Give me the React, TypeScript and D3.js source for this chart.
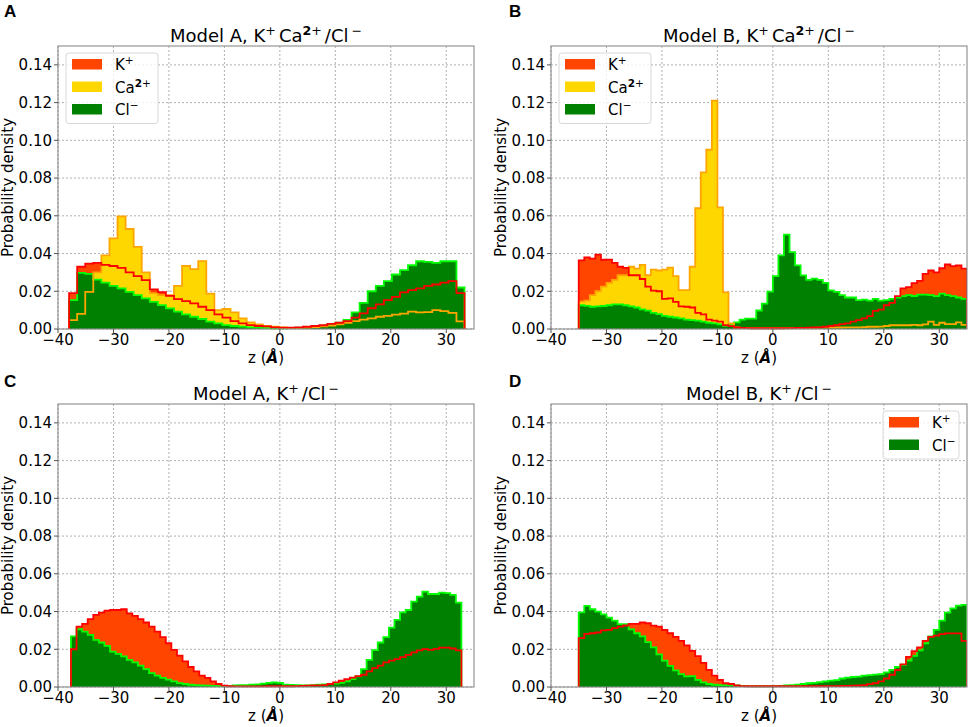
import React from "react";
import * as d3 from "d3";

// histogram bins (z in Å) and probability densities
const A_BINS = { start: -38, width: 1.455 };
const A_K = [0.019, 0.033, 0.0347, 0.035, 0.034, 0.0334, 0.0324, 0.03, 0.028, 0.0259, 0.021, 0.0195, 0.0176, 0.0158, 0.0148, 0.0136, 0.0118, 0.01, 0.0077, 0.006, 0.0042, 0.003, 0.0021, 0.0016, 0.0014, 0.0009, 0.0007, 0.0007, 0.0009, 0.0012, 0.0016, 0.002, 0.0027, 0.0033, 0.0042, 0.006, 0.0083, 0.011, 0.013, 0.0153, 0.017, 0.0194, 0.0206, 0.0215, 0.0229, 0.0236, 0.0246, 0.0254, 0.019];
const A_CA = [0.0047, 0.008, 0.0197, 0.03, 0.039, 0.048, 0.0597, 0.053, 0.0435, 0.03, 0.019, 0.018, 0.018, 0.0229, 0.0334, 0.0317, 0.036, 0.0188, 0.01, 0.0106, 0.0088, 0.0056, 0.0035, 0.0025, 0.0016, 0.0012, 0.0008, 0.0006, 0.0006, 0.0008, 0.001, 0.0014, 0.0018, 0.0025, 0.0032, 0.0042, 0.005, 0.0056, 0.0065, 0.007, 0.0076, 0.0082, 0.0092, 0.0088, 0.0089, 0.01, 0.0095, 0.0085, 0.004];
const A_CL = [0.0153, 0.0298, 0.0292, 0.0262, 0.0246, 0.0229, 0.0215, 0.0197, 0.018, 0.0162, 0.0144, 0.0127, 0.0109, 0.0092, 0.0077, 0.0065, 0.0053, 0.0039, 0.003, 0.0021, 0.0016, 0.0013, 0.0009, 0.0007, 0.0005, 0.0004, 0.0003, 0.0005, 0.0007, 0.001, 0.0013, 0.0018, 0.0026, 0.0033, 0.0048, 0.0088, 0.0139, 0.02, 0.0229, 0.0254, 0.0289, 0.0312, 0.0338, 0.0359, 0.0356, 0.035, 0.0359, 0.0359, 0.022];

const B_BINS = { start: -35, width: 1 };
const B_K = [0.0364, 0.038, 0.0373, 0.0394, 0.0367, 0.0368, 0.035, 0.033, 0.0324, 0.0285, 0.0285, 0.0265, 0.0225, 0.0203, 0.02, 0.016, 0.0162, 0.0144, 0.012, 0.0118, 0.0114, 0.0085, 0.0077, 0.005, 0.0044, 0.0039, 0.002, 0.0015, 0.0008, 0.0006, 0.0005, 0.0004, 0.0004, 0.0004, 0.0004,
  0.0004, 0.0004, 0.0005, 0.0005, 0.0006, 0.0006, 0.0007, 0.0008, 0.0009, 0.0012, 0.0016, 0.002, 0.0026, 0.003, 0.0039, 0.0047, 0.0056, 0.0068, 0.0096, 0.0103, 0.0126, 0.0139, 0.0174, 0.0215, 0.0222, 0.0243, 0.0255, 0.0292, 0.031, 0.03, 0.0322, 0.0342, 0.0333, 0.0337, 0.032];
const B_CA = [0.0145, 0.015, 0.018, 0.02, 0.0225, 0.0245, 0.026, 0.0285, 0.0285, 0.033, 0.032, 0.034, 0.0285, 0.0315, 0.031, 0.0315, 0.0325, 0.028, 0.0206, 0.0206, 0.033, 0.064, 0.083, 0.095, 0.121, 0.0645, 0.0194, 0.003, 0.0008, 0.0006, 0.0005, 0.0004, 0.0004, 0.0004, 0.0004,
  0.0004, 0.0004, 0.0004, 0.0005, 0.0005, 0.0005, 0.0006, 0.0006, 0.0007, 0.0007, 0.0008, 0.0008, 0.0008, 0.0009, 0.0009, 0.0009, 0.001, 0.0012, 0.0012, 0.0013, 0.0016, 0.002, 0.002, 0.002, 0.002, 0.0022, 0.002, 0.0025, 0.0039, 0.0022, 0.0033, 0.0026, 0.0026, 0.0035, 0.0022];
const B_CL = [0.0126, 0.0123, 0.0118, 0.012, 0.0122, 0.0126, 0.013, 0.013, 0.0126, 0.012, 0.0114, 0.0104, 0.0097, 0.0086, 0.0079, 0.007, 0.0065, 0.0061, 0.0056, 0.005, 0.0047, 0.0044, 0.0039, 0.0033, 0.003, 0.0025, 0.0016, 0.002, 0.0035, 0.005, 0.0055, 0.0055, 0.0098, 0.0135, 0.0198,
  0.028, 0.039, 0.05, 0.0407, 0.0337, 0.0284, 0.026, 0.0267, 0.026, 0.0244, 0.0205, 0.0197, 0.018, 0.0167, 0.0167, 0.0153, 0.0156, 0.015, 0.016, 0.015, 0.0153, 0.016, 0.0167, 0.0174, 0.018, 0.0175, 0.0182, 0.0182, 0.018, 0.0174, 0.0188, 0.018, 0.0174, 0.0167, 0.016];

const C_BINS = { start: -37.66, width: 1.0056 };
const C_K = [0.02, 0.032, 0.0335, 0.036, 0.0382, 0.0394, 0.0405, 0.0408, 0.0408, 0.0412, 0.039, 0.0377, 0.036, 0.0342, 0.032, 0.0294, 0.0264, 0.0232, 0.0197, 0.0166, 0.0136, 0.0106, 0.0083, 0.006, 0.0048, 0.003, 0.0016, 0.0007, 0.0004,
  0.0003, 0.0003, 0.0003, 0.0003, 0.0003, 0.0003, 0.0004, 0.0004, 0.0004, 0.0004, 0.0004, 0.0005, 0.0006, 0.0007, 0.0008, 0.0009,
  0.001, 0.0016, 0.0025, 0.0033, 0.0042, 0.005, 0.0058, 0.0065, 0.0083, 0.01, 0.0113, 0.013, 0.014, 0.0148, 0.0158, 0.017, 0.0183, 0.0194, 0.0201, 0.0197, 0.0202, 0.0209, 0.0209, 0.0204, 0.0194];
const C_CL = [0.0268, 0.0306, 0.0294, 0.0276, 0.025, 0.0236, 0.0218, 0.0188, 0.0176, 0.0162, 0.0144, 0.013, 0.0113, 0.0095, 0.0074, 0.006, 0.0048, 0.0039, 0.003, 0.0021, 0.0016, 0.0012, 0.001, 0.0008, 0.0007, 0.0006, 0.0005, 0.0005, 0.0006, 0.0008, 0.001, 0.001, 0.0012, 0.0014, 0.0018, 0.0022, 0.0025, 0.0022, 0.0012, 0.0011,
  0.001, 0.0009, 0.0008, 0.001, 0.0012, 0.0014, 0.0016, 0.0018, 0.0022, 0.003, 0.0042, 0.0056, 0.0095, 0.0144, 0.0195, 0.0236, 0.0264, 0.0315, 0.0356, 0.0396, 0.0408, 0.0452, 0.0479, 0.0505, 0.0493, 0.0493, 0.05, 0.0498, 0.0488, 0.0447];

const D_BINS = { start: -35, width: 1 };
const D_K = [0.0259, 0.0282, 0.0285, 0.0289, 0.03, 0.0303, 0.0312, 0.032, 0.0326, 0.0335, 0.0335, 0.0342, 0.0338, 0.0325, 0.032, 0.0302, 0.0285, 0.0266, 0.0244, 0.0221, 0.0192, 0.0164, 0.0128, 0.0091, 0.006, 0.0037, 0.002, 0.0016, 0.0008, 0.0005, 0.0004, 0.0004, 0.0004, 0.0004, 0.0004,
  0.0004, 0.0004, 0.0004, 0.0004, 0.0004, 0.0004, 0.0004, 0.0004, 0.0004, 0.0004, 0.0005, 0.0005, 0.0006, 0.0006, 0.0007, 0.0008, 0.001, 0.0015, 0.002, 0.003, 0.0045, 0.0065, 0.009, 0.012, 0.016, 0.019, 0.021, 0.0245, 0.0266, 0.0272, 0.028, 0.0284, 0.0284, 0.0284, 0.0245];
const D_CL = [0.0396, 0.043, 0.0412, 0.04, 0.0385, 0.0368, 0.0352, 0.0333, 0.0333, 0.0305, 0.0285, 0.0268, 0.0238, 0.021, 0.0173, 0.014, 0.0112, 0.0088, 0.0068, 0.0056, 0.0058, 0.0038, 0.0024, 0.0016, 0.0012, 0.001, 0.001, 0.0009, 0.0008, 0.0006, 0.0005, 0.0004, 0.0004, 0.0004, 0.0004,
  0.0005, 0.0006, 0.0008, 0.001, 0.0012, 0.0016, 0.002, 0.0022, 0.0026, 0.003, 0.0034, 0.0036, 0.0045, 0.005, 0.0053, 0.0055, 0.006, 0.0063, 0.0066, 0.0068, 0.0077, 0.009, 0.0106, 0.0118, 0.014, 0.0165, 0.0194, 0.0232, 0.0268, 0.0303, 0.0352, 0.0394, 0.0417, 0.0431, 0.0435];

const X_TICKS = [-40, -30, -20, -10, 0, 10, 20, 30];
const Y_TICKS = [0, 0.02, 0.04, 0.06, 0.08, 0.1, 0.12, 0.14];
const X_DOMAIN: [number, number] = [-40, 35];
const Y_DOMAIN: [number, number] = [0, 0.15];

type Ion = "K" | "Ca" | "Cl";
type Series = { ion: Ion; start: number; width: number; values: number[] };

const COLORS: Record<Ion, { fill: string; edge: string }> = {
  K: { fill: "#ff4500", edge: "#ff0000" },
  Ca: { fill: "#ffd700", edge: "#ffa500" },
  Cl: { fill: "#008000", edge: "#00ff00" },
};

const FONT = "'DejaVu Sans', sans-serif";
const PW = 416;
const PH = 283;

const PANELS = [
  { letter: "A", model: "A", withCa: true, left: 58, top: 46, lx: 4, ly: 17, legend: "left",
    series: [{ ion: "K", ...A_BINS, values: A_K }, { ion: "Ca", ...A_BINS, values: A_CA }, { ion: "Cl", ...A_BINS, values: A_CL }] },
  { letter: "B", model: "B", withCa: true, left: 551, top: 46, lx: 509, ly: 17, legend: "left",
    series: [{ ion: "K", ...B_BINS, values: B_K }, { ion: "Ca", ...B_BINS, values: B_CA }, { ion: "Cl", ...B_BINS, values: B_CL }] },
  { letter: "C", model: "A", withCa: false, left: 58, top: 404, lx: 4, ly: 387, legend: null,
    series: [{ ion: "K", ...C_BINS, values: C_K }, { ion: "Cl", ...C_BINS, values: C_CL }] },
  { letter: "D", model: "B", withCa: false, left: 551, top: 404, lx: 509, ly: 387, legend: "right",
    series: [{ ion: "K", ...D_BINS, values: D_K }, { ion: "Cl", ...D_BINS, values: D_CL }] },
] as { letter: string; model: string; withCa: boolean; left: number; top: number; lx: number; ly: number; legend: string | null; series: Series[] }[];

function stepPoints(s: Series): [number, number][] {
  const pts: [number, number][] = [[s.start, 0]];
  s.values.forEach((v, i) => {
    const a = s.start + i * s.width;
    pts.push([a, v], [a + s.width, v]);
  });
  pts.push([s.start + s.values.length * s.width, 0]);
  return pts;
}

// ion label with superscript charge
function IonLabel({ ion, size }: { ion: Ion; size: number }) {
  const s = size * 0.7;
  const r = size * 0.38;
  if (ion === "K")
    return (<><tspan>K</tspan><tspan dy={-r} fontSize={s}>+</tspan><tspan dy={r}> </tspan></>);
  if (ion === "Ca")
    return (<><tspan>Ca</tspan><tspan dy={-r} fontSize={s} fontWeight="bold">2</tspan><tspan fontSize={s}>+</tspan><tspan dy={r}> </tspan></>);
  return (<><tspan>Cl</tspan><tspan dy={-r} fontSize={s}>−</tspan><tspan dy={r}> </tspan></>);
}

function Title({ model, withCa, cx, y }: { model: string; withCa: boolean; cx: number; y: number }) {
  const size = 18;
  const s = size * 0.7;
  const r = size * 0.38;
  return (
    <text x={cx} y={y} textAnchor="middle" fontFamily={FONT} fontSize={size} fill="#000">
      <tspan>{`Model ${model}, K`}</tspan>
      <tspan dy={-r} fontSize={s}>+</tspan>
      {withCa ? (
        <>
          <tspan dy={r} dx={3}>Ca</tspan>
          <tspan dy={-r} fontSize={s} fontWeight="bold">2</tspan>
          <tspan fontSize={s}>+</tspan>
        </>
      ) : null}
      <tspan dy={r} dx={3}>/Cl</tspan>
      <tspan dy={-r} fontSize={s} dx={3}>−</tspan>
    </text>
  );
}

function Panel({ p }: { p: (typeof PANELS)[number] }) {
  const x = d3.scaleLinear().domain(X_DOMAIN).range([p.left, p.left + PW]);
  const y = d3.scaleLinear().domain(Y_DOMAIN).range([p.top + PH, p.top]);
  const line = d3.line<[number, number]>().x((d) => x(d[0])).y((d) => y(d[1]));
  const clipId = `clip-${p.letter}`;
  const bottom = p.top + PH;
  const cy = p.top + PH / 2;
  const labelX = p.left - 45;

  const ions = p.series.map((s) => s.ion);
  const lw = 30;
  const rowH = 22.5;
  const boxW = p.withCa ? 92 : 76;
  const boxH = ions.length * rowH + 3;
  const boxX = p.legend === "right" ? p.left + PW - boxW - 8 : p.left + 8;
  const boxY = p.top + 7;

  return (
    <g>
      <defs>
        <clipPath id={clipId}>
          <rect x={p.left} y={p.top - 2} width={PW} height={PH + 4} />
        </clipPath>
      </defs>
      <rect x={p.left} y={p.top} width={PW} height={PH} fill="#fff" />
      {X_TICKS.map((t) => (
        <line key={`gx${t}`} x1={x(t)} x2={x(t)} y1={p.top} y2={bottom} stroke="#b0b0b0" strokeDasharray="2,2" />
      ))}
      {Y_TICKS.map((t) => (
        <line key={`gy${t}`} x1={p.left} x2={p.left + PW} y1={y(t)} y2={y(t)} stroke="#b0b0b0" strokeDasharray="2,2" />
      ))}
      <g clipPath={`url(#${clipId})`}>
        {p.series.map((s) => (
          <path key={`f${s.ion}`} d={line(stepPoints(s)) + "Z"} fill={COLORS[s.ion].fill} stroke="none" />
        ))}
        {[...p.series].reverse().map((s) => (
          <path key={`e${s.ion}`} d={line(stepPoints(s)) || ""} fill="none" stroke={COLORS[s.ion].edge} strokeWidth={1.8} strokeLinejoin="miter" />
        ))}
      </g>
      <rect x={p.left} y={p.top} width={PW} height={PH} fill="none" stroke="#8a8a8a" strokeWidth={1.1} />
      {X_TICKS.map((t) => (
        <g key={`tx${t}`}>
          <line x1={x(t)} x2={x(t)} y1={bottom} y2={bottom + 4} stroke="#555" />
          <text x={x(t)} y={bottom + 16} textAnchor="middle" fontFamily={FONT} fontSize={15}>
            {t < 0 ? `−${-t}` : `${t}`}
          </text>
        </g>
      ))}
      {Y_TICKS.map((t) => (
        <g key={`ty${t}`}>
          <line x1={p.left - 4} x2={p.left} y1={y(t)} y2={y(t)} stroke="#555" />
          <text x={p.left - 6} y={y(t) + 5.3} textAnchor="end" fontFamily={FONT} fontSize={15}>
            {t.toFixed(2)}
          </text>
        </g>
      ))}
      <text transform={`translate(${labelX},${cy}) rotate(-90)`} textAnchor="middle" fontFamily={FONT} fontSize={15}>
        Probability density
      </text>
      <text x={p.left + PW / 2} y={bottom + 34} textAnchor="middle" fontFamily={FONT} fontSize={15}>
        <tspan>z (</tspan>
        <tspan fontWeight="bold" fontStyle="italic">Å</tspan>
        <tspan>)</tspan>
      </text>
      <Title model={p.model} withCa={p.withCa} cx={p.left + PW / 2} y={p.top - 4} />
      <text x={p.lx} y={p.ly} fontFamily="'Liberation Sans', Arial, sans-serif" fontWeight="bold" fontSize={17}>
        {p.letter}
      </text>
      {p.legend ? (
        <g>
          <rect x={boxX} y={boxY} width={boxW} height={boxH} rx={3} fill="#fff" fillOpacity={0.8} stroke="#d8d8d8" />
          {ions.map((ion, i) => {
            const yc = boxY + 11 + i * rowH;
            return (
              <g key={`lg${ion}`}>
                <rect x={boxX + 6} y={yc - 5} width={lw} height={10.5} fill={COLORS[ion].fill} />
                <text x={boxX + 49} y={yc + 6} fontFamily={FONT} fontSize={15}>
                  <IonLabel ion={ion} size={15} />
                </text>
              </g>
            );
          })}
        </g>
      ) : null}
    </g>
  );
}

export default function App() {
  return (
    <svg width={969} height={727} style={{ position: "absolute", left: 0, top: 0, background: "#fff" }}>
      <rect width={969} height={727} fill="#fff" />
      {PANELS.map((p) => (
        <Panel key={p.letter} p={p} />
      ))}
    </svg>
  );
}
